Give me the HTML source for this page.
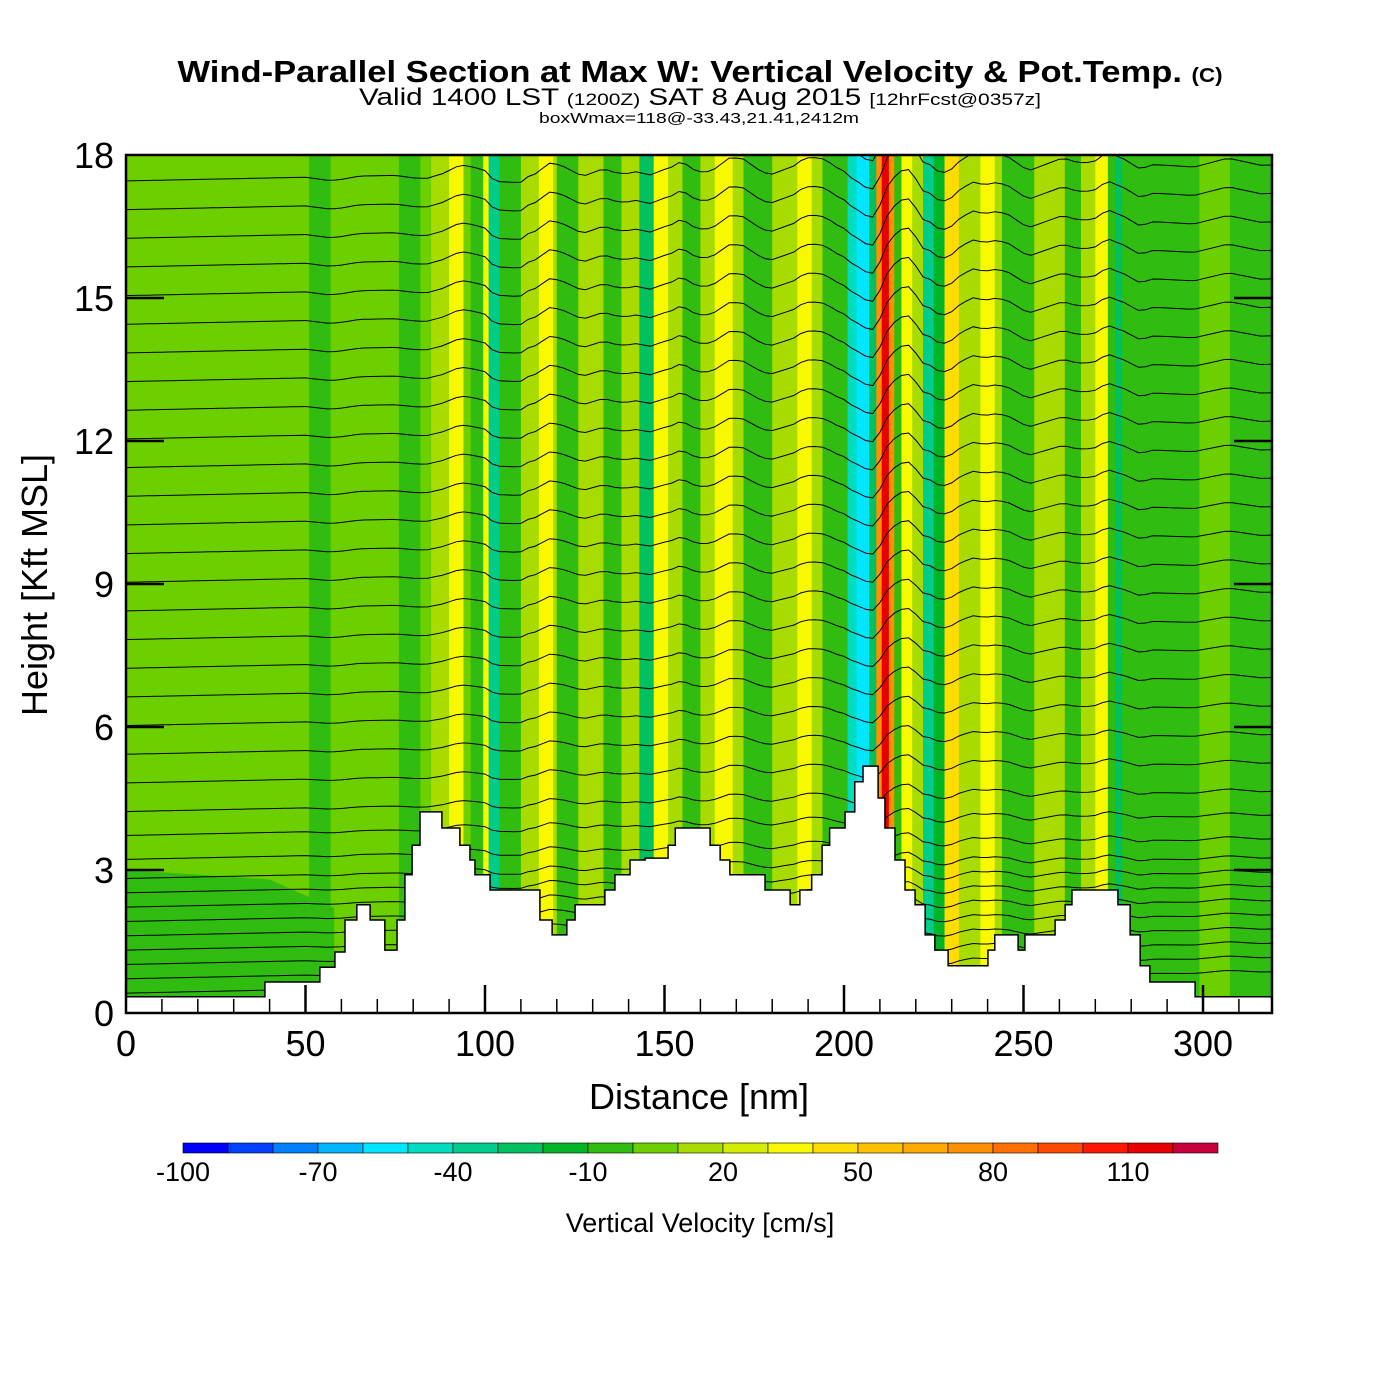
<!DOCTYPE html>
<html><head><meta charset="utf-8">
<style>html,body{margin:0;padding:0;background:#fff}svg{display:block}</style>
</head><body>
<svg id="chart" width="1400" height="1400" xmlns="http://www.w3.org/2000/svg" font-family="'Liberation Sans', sans-serif">
<rect width="1400" height="1400" fill="#fff"/>
<g>
<text x="700" y="82" text-anchor="middle" font-size="31" font-weight="bold" textLength="1045" lengthAdjust="spacingAndGlyphs">Wind-Parallel Section at Max W: Vertical Velocity &amp; Pot.Temp. <tspan font-size="20">(C)</tspan></text>
<text x="700" y="105" text-anchor="middle" font-size="24" textLength="682" lengthAdjust="spacingAndGlyphs">Valid 1400 LST <tspan font-size="17">(1200Z)</tspan> SAT 8 Aug 2015 <tspan font-size="17">[12hrFcst@0357z]</tspan></text>
<text x="699" y="123" text-anchor="middle" font-size="15" textLength="320" lengthAdjust="spacingAndGlyphs">boxWmax=118@-33.43,21.41,2412m</text>
</g>
<defs><clipPath id="pc"><rect x="126" y="155" width="1146" height="858"/></clipPath></defs>
<g id="plot" clip-path="url(#pc)"></g>
<g id="axes"></g>
<g id="cbar"></g>
<text x="699" y="1109" text-anchor="middle" font-size="36">Distance [nm]</text>
<text transform="translate(47,585) rotate(-90)" text-anchor="middle" font-size="36">Height [Kft MSL]</text>
<text x="700" y="1232" text-anchor="middle" font-size="27">Vertical Velocity [cm/s]</text>
</svg>
<script>
// ---- data ----
const wDist = [0,48.5,51,57,76,82,85,90,94,96,99.5,101,104,110,115,119,120,126,133,138,143,147,151,155,160,164,169,172,180,187,191,194,201,203.5,207,209,210.5,212.5,214,216,219,222,225,228,232,238,242,244,253,261.5,266,270,273.5,275.5,277.5,288,299,307.5,320];
const wVal  = [5,5,-5,5,-5,5,12,35,5,-5,35,-35,-10,12,35,12,-10,12,-10,12,-25,35,12,-10,12,35,12,-10,12,35,12,-10,-45,-55,-25,75,115,75,-10,35,12,-35,-20,40,12,35,12,-10,12,-10,12,35,-10,-25,-5,-10,5,-10,-10];
const terrainX = [0,38.7,54,58.2,61,64.3,68,72.1,75.5,77.7,79.7,81.9,88,93,95.8,97.2,101.4,115.3,118.7,122.8,125.1,133.4,136.2,140.4,144.6,151,153,162.7,165.5,168.2,178,185,187.7,191,193.9,196,200.3,203,205.3,209.5,211.4,214.2,217,219.8,222.6,225.3,229,240.1,242,248.5,250.4,258.8,261.6,263.5,276.3,279.7,282.5,285.2,297.8,299.2];
const terrainH = [0.34,0.65,0.96,1.28,1.95,2.27,1.95,1.32,1.95,2.9,3.52,4.22,3.88,3.52,3.21,2.9,2.58,1.95,1.64,1.95,2.27,2.58,2.9,3.21,3.25,3.52,3.88,3.52,3.21,2.9,2.58,2.27,2.58,2.9,3.52,3.88,4.22,4.85,5.18,4.51,3.88,3.21,2.58,2.27,1.64,1.32,0.99,1.32,1.64,1.32,1.64,1.95,2.27,2.58,2.27,1.64,0.99,0.65,0.34,0.34];
const thetaBase = [0.4,0.7,1.0,1.3,1.6,1.9,2.2,2.5,2.8,3.2,3.7,4.2,4.8,5.4,6.0,6.6,7.2,7.8,8.4,9.0,9.6,10.2,10.8,11.4,12.0,12.6,13.2,13.8,14.4,15.0,15.6,16.2,16.8,17.4,18.0];
const cbLevels = [-100,-90,-80,-70,-60,-50,-40,-30,-20,-10,0,10,20,30,40,50,60,70,80,90,100,110,120,130];
const cbColors = ["#0000ff","#0040ff","#0080ff","#00b4ff","#00e6ff","#00dcc0","#00cc8c","#00c060","#00b428","#30bc10","#6cd000","#a8dc00","#d4ec00","#f8f800","#ffdc00","#ffc000","#ffa800","#ff9000","#ff7000","#ff4800","#ff1800","#e80000","#c8003c"];
const cbLabels = [-100,-70,-40,-10,20,50,80,110];
const xTicks = [0,50,100,150,200,250,300];
const yTicks = [0,3,6,9,12,15,18];
// ---- scales ----
const X = d => 126 + d*3.59;
const Y = h => 1013 - h*47.67;
const NS='http://www.w3.org/2000/svg';
function mk(tag, attrs, parent){const e=document.createElementNS(NS,tag);for(const k in attrs)e.setAttribute(k,attrs[k]);parent.appendChild(e);return e;}
function colorFor(v){for(let i=0;i<cbColors.length;i++){if(v<cbLevels[i+1])return cbColors[i];}return cbColors[cbColors.length-1];}
function wAt(d){let v=wVal[0];for(let i=0;i<wDist.length;i++){if(d>=wDist[i])v=wVal[i];}return v;}
function terrAt(d){let h=terrainH[0];for(let i=0;i<terrainX.length;i++){if(d>=terrainX[i])h=terrainH[i];}return h;}
const plot=document.getElementById('plot');
mk('rect',{x:126,y:155,width:1146,height:858,fill:'#6cd000'},plot);
// w bands
for(let i=0;i<wDist.length-1;i++){
  const r=mk('rect',{x:X(wDist[i]),y:155,width:(wDist[i+1]-wDist[i])*3.59+0.6,height:858,fill:colorFor(wVal[i])},plot);
  
  
}
// low-level darker region on left
const lowRegion=mk('path',{d:`M${X(0)},${Y(3)} L${X(40)},${Y(2.8)} L${X(58)},${Y(2.2)} L${X(58)},${Y(0)} L${X(0)},${Y(0)} Z`,fill:'#30bc10'},plot);


// isentropes
thetaBase.forEach((h0)=>{
  let pts=[];
  for(let d=0; d<=320; d+=2){
    let acc=0,n=0;for(let s=-8;s<=0;s+=1){acc+=wAt(Math.max(0,d+s));n++;}
    let h=h0+0.5*d/320+0.008*acc/n*(0.4+h0/18);
    pts.push(X(d).toFixed(1)+','+Y(h).toFixed(1));
  }
  const p=mk('polyline',{points:pts.join(' '),fill:'none',stroke:'#000','stroke-width':1},plot);
  
  
});
// terrain
let td=`M${X(0)},${Y(-1)}`;
for(let i=0;i<terrainX.length;i++){
  const x0=X(terrainX[i]), x1=i<terrainX.length-1?X(terrainX[i+1]):X(330);
  td+=` L${x0},${Y(terrainH[i])} L${x1},${Y(terrainH[i])}`;
}
td+=` L${X(330)},${Y(-1)} Z`;
const terr=mk('path',{d:td,fill:'#fff',stroke:'#000','stroke-width':1.5},plot);


// axes
const ax=document.getElementById('axes');
const frame=mk('rect',{x:126,y:155,width:1146,height:858,fill:'none',stroke:'#000','stroke-width':2.5},ax);


for(let d=10; d<320; d+=10){
  const major=d%50===0;const L=major?28:14;
  mk('line',{x1:X(d),x2:X(d),y1:1013,y2:1013-L,stroke:'#000','stroke-width':major?2.5:1.5},ax);
}
xTicks.forEach(v=>{
  const t=mk('text',{x:X(v),y:1056,'text-anchor':'middle','font-size':36},ax);t.textContent=v;
  
  
});
for(let h=3; h<18; h+=3){
  mk('line',{x1:126,x2:164,y1:Y(h),y2:Y(h),stroke:'#000','stroke-width':2.5},ax);
  mk('line',{x1:1272,x2:1234,y1:Y(h),y2:Y(h),stroke:'#000','stroke-width':2.5},ax);
}
yTicks.forEach(v=>{
  const t=mk('text',{x:114,y:Y(v)+13,'text-anchor':'end','font-size':36},ax);t.textContent=v;
  
  
});
// colorbar
const cb=document.getElementById('cbar');
const cbX=v=>183+(v+100)*4.5;
cbColors.forEach((c,i)=>{
  const r=mk('rect',{x:cbX(cbLevels[i]),y:1143,width:45,height:10,fill:c,stroke:'#000','stroke-width':0.6},cb);
  
  
});
cbLabels.forEach(v=>{
  const t=mk('text',{x:cbX(v),y:1181,'text-anchor':'middle','font-size':27},cb);t.textContent=v;
  
  
});
</script>
</body></html>
